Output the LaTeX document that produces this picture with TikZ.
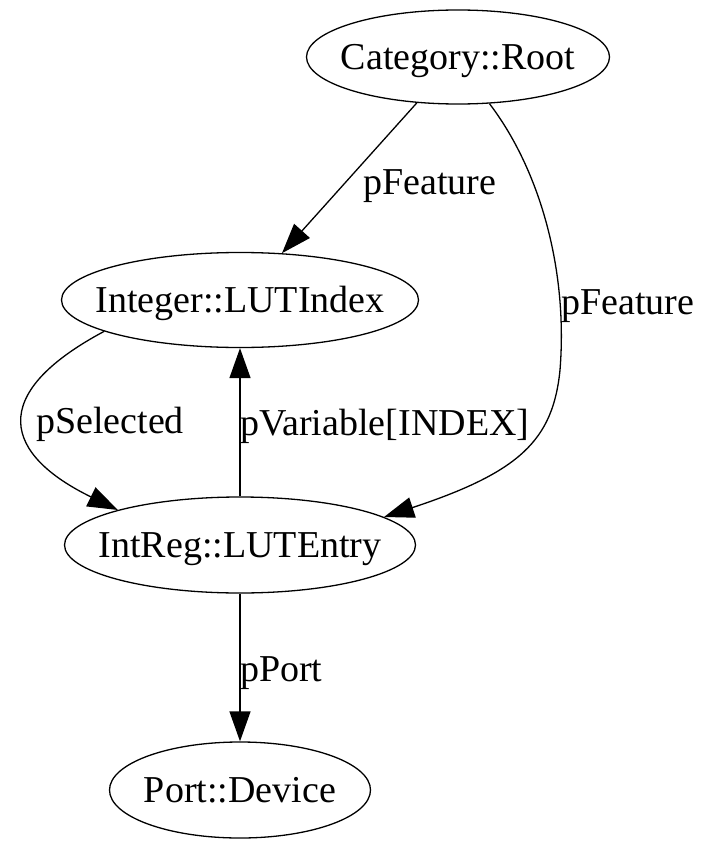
\documentclass[tikz,border=0pt]{standalone}
\usepackage{fontspec}
\setmainfont{Liberation Serif}
\usetikzlibrary{shapes.geometric,arrows.meta}
\begin{document}
\begin{tikzpicture}[x=1pt,y=-1pt,
  every node/.style={font=\fontsize{38}{41}\selectfont, text height=25pt, text depth=0pt},
  state/.style={draw, ellipse, line width=1.3pt, inner xsep=-40pt, inner ysep=0pt},
  lbl/.style={anchor=west, inner sep=0pt},
  arr/.style={line width=1.3pt, -{Triangle[length=30pt,width=21pt]}}]
\useasboundingbox (0,0) rectangle (713,864);
\node[state, minimum width=303pt, minimum height=94pt] (root) at (458,57) {Category::Root};
\node[state, minimum width=357pt, minimum height=95pt] (idx) at (240,300) {Integer::LUTIndex};
\node[state, minimum width=351pt, minimum height=96pt] (entry) at (240,545) {IntReg::LUTEntry};
\node[state, minimum width=261pt, minimum height=96pt] (dev) at (240,790) {Port::Device};
\draw[arr] (root) -- (idx);
\node[lbl] (l1) at (363,182) {pFeature};
\draw[arr] (root.-56) .. controls (540,170) and (568,270) .. (560,370)
  .. controls (553,440) and (520,472) .. (entry.11);
\node[lbl] (l2) at (561,302) {pFeature};
\draw[arr] (idx.193) .. controls (-15,395) and (5,455) .. (entry.164);
\node[lbl] (l3) at (36,421) {pSelected};
\draw[arr] (entry) -- (idx);
\node[lbl] (l4) at (240,423) {pVariable[INDEX]};
\draw[arr] (entry) -- (dev);
\node[lbl] (l5) at (240,669) {pPort};
\end{tikzpicture}
\end{document}
